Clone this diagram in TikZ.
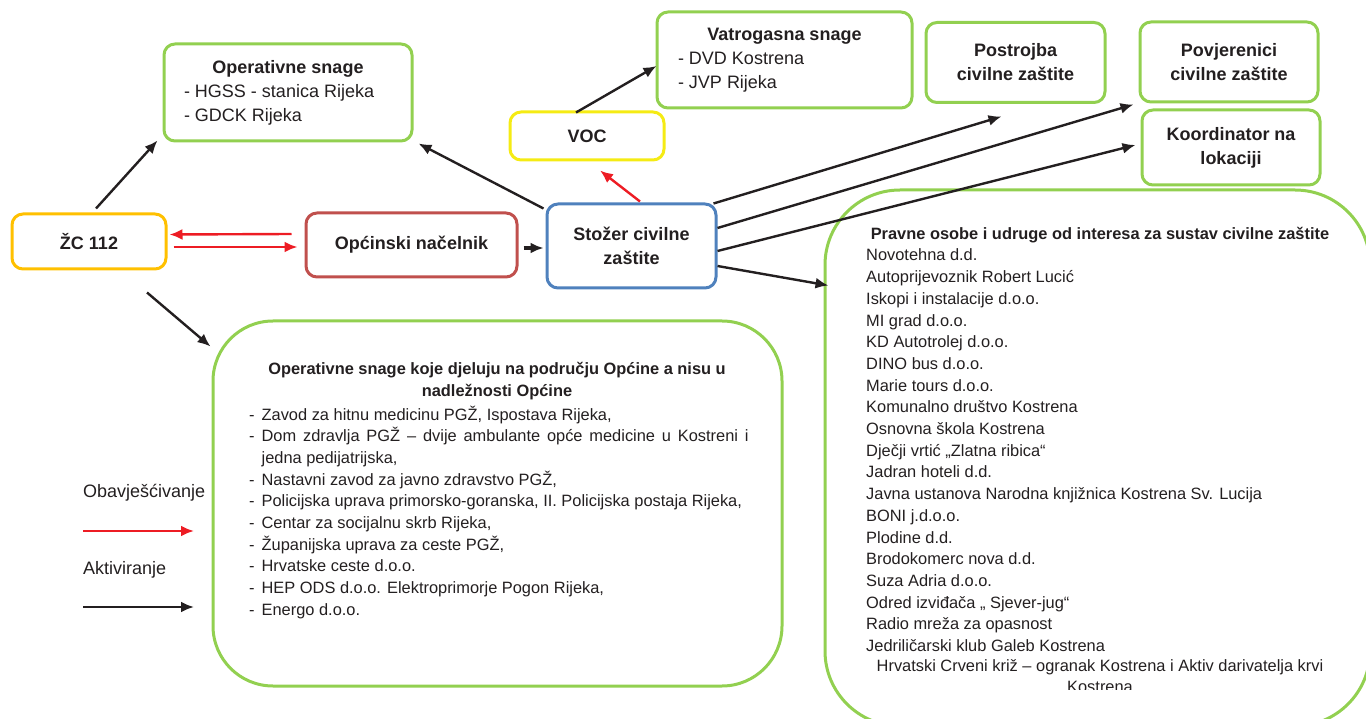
\documentclass[tikz,border=0pt]{standalone}
\usepackage{fontspec}
\setmainfont{Liberation Sans}
\usepackage{tikz}
\usetikzlibrary{arrows.meta,calc}
\definecolor{ink}{RGB}{35,31,32}
\definecolor{boxgreen}{RGB}{146,208,80}
\definecolor{boxorange}{RGB}{255,192,0}
\definecolor{boxred}{RGB}{192,80,77}
\definecolor{boxblue}{RGB}{79,129,189}
\definecolor{boxyellow}{RGB}{245,235,20}
\definecolor{alertred}{RGB}{237,28,36}
\newcommand\boxfont{\fontsize{18}{24}\selectfont}
\newcommand\listfont{\fontsize{16.4}{21.7}\selectfont}

\begin{document}
\begin{tikzpicture}[x=1pt, y=-1pt,
    every node/.style={inner sep=0pt, text=ink},
    unit/.style={draw=#1, rounded corners=11pt, line width=3pt,
      font=\boxfont\bfseries, align=center},
    panel/.style={draw=boxgreen, rounded corners=#1, line width=3pt},
    act/.style={draw=ink, line width=2.4pt, -{Latex[length=13pt,width=11pt]}},
    inform/.style={draw=alertred, line width=2.4pt, -{Latex[length=13pt,width=11pt]}}]
  \useasboundingbox (0,0) rectangle (1366,719);

  \node[unit=boxorange, minimum width=154pt, minimum height=55pt] (zc) at (89,241.5) {ŽC 112};
  \node[unit=boxred, minimum width=211pt, minimum height=64pt] (nacelnik) at (411.5,245) {Općinski načelnik};
  \node[unit=boxblue, minimum width=169pt, minimum height=84pt] (stozer) at (631.5,246) {Stožer civilne\\zaštite};
  \node[unit=boxyellow, minimum width=154pt, minimum height=48pt] (voc) at (587,136) {VOC};
  \node[unit=boxgreen, minimum width=248pt, minimum height=97pt, font=\boxfont, align=left] (opsnage) at (288,92.5)
    {\makebox[208pt]{\textbf{Operativne snage}}\\- HGSS - stanica Rijeka\\- GDCK Rijeka};
  \node[unit=boxgreen, minimum width=255pt, minimum height=96pt, font=\boxfont, align=left] (vatro) at (784.5,60)
    {\makebox[213pt]{\textbf{Vatrogasna snage}}\\- DVD Kostrena\\- JVP Rijeka};
  \node[unit=boxgreen, minimum width=179pt, minimum height=80pt] (postrojba) at (1015.5,62.5) {Postrojba\\civilne zaštite};
  \node[unit=boxgreen, minimum width=178pt, minimum height=80pt] (povjerenici) at (1229,62) {Povjerenici\\civilne zaštite};
  \node[unit=boxgreen, minimum width=178pt, minimum height=75pt] (koordinator) at (1231,147.5) {Koordinator na\\lokaciji};

  \node[panel=60pt, minimum width=569pt, minimum height=365pt] (opcine) at (497.5,503.5) {};
  \node[font=\listfont\bfseries, align=center] (opcineTitle) at (497,381)
    {Operativne snage koje djeluju na području Općine a nisu u\\nadležnosti Općine};
  \node[font=\listfont, anchor=base west] (opcineList) at (249,420) {\begin{tabular}[t]{@{}l@{\hspace{7pt}}l@{}}
    - & Zavod za hitnu medicinu PGŽ, Ispostava Rijeka,\\
    - & \makebox[487pt][s]{Dom zdravlja PGŽ – dvije ambulante opće medicine u Kostreni i}\\
      & jedna pedijatrijska,\\
    - & Nastavni zavod za javno zdravstvo PGŽ,\\
    - & Policijska uprava primorsko-goranska, II. Policijska postaja Rijeka,\\
    - & Centar za socijalnu skrb Rijeka,\\
    - & Županijska uprava za ceste PGŽ,\\
    - & Hrvatske ceste d.o.o.\\
    - & HEP ODS d.o.o. Elektroprimorje Pogon Rijeka,\\
    - & Energo d.o.o.
  \end{tabular}};

  \begin{scope}
    \clip (0,0) rectangle (1366,719);
    \node[panel=75pt, minimum width=545pt, minimum height=536pt] (pravne) at (1097.5,458) {};
  \end{scope}
  \node[font=\listfont\bfseries] (pravneTitle) at (1100,235) {Pravne osobe i udruge od interesa za sustav civilne zaštite};
  \node[font=\listfont, anchor=base west] (pravneList) at (866,261) {\begin{tabular}[t]{@{}l@{}}
    Novotehna d.d.\\
    Autoprijevoznik Robert Lucić\\
    Iskopi i instalacije d.o.o.\\
    MI grad d.o.o.\\
    KD Autotrolej d.o.o.\\
    DINO bus d.o.o.\\
    Marie tours d.o.o.\\
    Komunalno društvo Kostrena\\
    Osnovna škola Kostrena\\
    Dječji vrtić „Zlatna ribica“\\
    Jadran hoteli d.d.\\
    Javna ustanova Narodna knjižnica Kostrena Sv. Lucija\\
    BONI j.d.o.o.\\
    Plodine d.d.\\
    Brodokomerc nova d.d.\\
    Suza Adria d.o.o.\\
    Odred izviđača „ Sjever-jug“\\
    Radio mreža za opasnost\\
    Jedriličarski klub Galeb Kostrena
  \end{tabular}};
  \begin{scope}
    \clip (0,0) rectangle (1366,689);
    \node[font=\listfont, anchor=base] (pravneLast) at (1100,671) {\begin{tabular}[t]{@{}c@{}}
      Hrvatski Crveni križ – ogranak Kostrena i Aktiv darivatelja krvi\\
      Kostrena
    \end{tabular}};
  \end{scope}

  \node[font=\boxfont, anchor=west] (legInform) at (83,493) {Obavješćivanje};
  \node[font=\boxfont, anchor=west] (legAct) at (83,570) {Aktiviranje};
  \coordinate (legInformA) at (83,531);
  \coordinate (legInformB) at (194,531);
  \coordinate (legActA) at (83,607);
  \coordinate (legActB) at (194,607);

  \draw[act] ($(zc.north)+(7,-4)$) -- ($(opsnage.south west)+(-5,-2)$);
  \draw[act] ($(zc.south)+(58,22)$) -- ($(opcine.north west)+(-1,27)$);
  \draw[inform] ($(nacelnik.west)+(-13,-11)$) -- ($(zc.east)+(2,-7)$);
  \draw[inform] ($(zc.east)+(6,5.5)$) -- ($(nacelnik.west)+(-7,2)$);
  \draw[act, line width=3.4pt] ($(nacelnik.east)+(5,3)$) -- ($(stozer.west)+(-2,2)$);
  \draw[act] ($(stozer.north west)+(-2,6)$) -- ($(opsnage.south east)+(5,1)$);
  \draw[inform] ($(stozer.north)+(8.5,-1)$) -- ($(voc.south)+(13,9)$);
  \draw[act] ($(voc.north)+(-11,2)$) -- ($(vatro.west)+(1,6)$);
  \draw[act] ($(stozer.north east)+(-4,1)$) -- ($(postrojba.south west)+(77,12.5)$);
  \draw[act] ($(stozer.east)+(0,-18)$) -- ($(povjerenici.south west)+(-5,1)$);
  \draw[act] ($(stozer.east)+(0,5)$) -- ($(koordinator.west)+(-5,-2.5)$);
  \draw[act] ($(stozer.east)+(0,20)$) -- ($(pravne.north west)+(5,97)$);
  \draw[inform] (legInformA) -- (legInformB);
  \draw[act] (legActA) -- (legActB);
\end{tikzpicture}
\end{document}
